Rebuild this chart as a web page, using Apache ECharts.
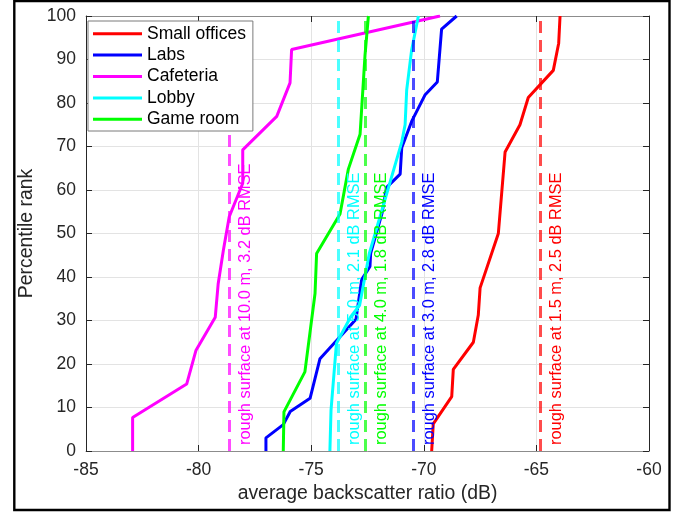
<!DOCTYPE html>
<html>
<head>
<meta charset="utf-8">
<script src="https://cdn.jsdelivr.net/npm/echarts@6/dist/echarts.min.js"></script>
<style>
html,body{margin:0;padding:0;background:#fff;}
#chart{width:689px;height:512px;}
</style>
</head>
<body>
<div id="chart"></div>
<script>
// ---- data ----
const seriesNames = ['Small offices', 'Labs', 'Cafeteria', 'Lobby', 'Game room'];
const seriesColors = ['#ff0000', '#0000ff', '#ff00ff', '#00ffff', '#00ff00'];
const dashColors = ['rgba(255,0,0,0.7)', 'rgba(0,0,255,0.7)', 'rgba(255,0,255,0.7)', 'rgba(0,255,255,0.7)', 'rgba(0,255,0,0.7)'];

const smallOfficesX = [-69.65, -69.58, -68.76, -68.69, -67.80, -67.58, -67.50, -66.69, -66.39, -65.73, -65.36, -64.25, -64.01, -63.95];
const smallOfficesP = [0, 6.25, 12.5, 18.75, 25, 31.25, 37.5, 50, 68.75, 75, 81.25, 87.5, 93.75, 100];

const labsX = [-77.01, -77.01, -76.24, -75.93, -75.05, -74.61, -73.01, -72.76, -72.39, -72.36, -71.86, -71.65, -71.05, -70.98, -70.54, -69.95, -69.40, -69.21, -68.54];
const labsP = [0, 3.03, 6.06, 9.09, 12.12, 21.21, 30.3, 39.39, 42.42, 45.45, 54.55, 60.61, 63.64, 69.7, 75.76, 81.82, 84.85, 96.97, 100];

const cafeteriaX = [-82.93, -82.93, -80.53, -80.12, -79.26, -79.13, -78.90, -78.64, -78.04, -78.04, -76.53, -75.94, -75.87, -69.28];
const cafeteriaP = [0, 7.69, 15.38, 23.08, 30.77, 38.46, 46.15, 53.85, 61.54, 69.23, 76.92, 84.62, 92.31, 100];

const lobbyX = [-74.17, -74.12, -73.88, -73.25, -72.85, -72.42, -70.98, -70.83, -70.76, -70.54, -70.24];
const lobbyP = [0, 9.4, 24.7, 30.8, 33.5, 45.4, 71, 75, 83, 92.2, 100];

const gameRoomX = [-76.24, -76.21, -75.28, -74.83, -74.76, -73.72, -73.35, -72.83, -72.61, -72.46];
const gameRoomP = [0, 9.0, 18.2, 36.2, 45.4, 54.5, 64.8, 72.8, 91, 100];

const roughX = [-64.84, -70.48, -78.65, -73.81, -72.61];
const roughLabels = [
  'rough surface at 1.5 m, 2.5 dB RMSE',
  'rough surface at 3.0 m, 2.8 dB RMSE',
  'rough surface at 10.0 m, 3.2 dB RMSE',
  'rough surface at 5.0 m, 2.1 dB RMSE',
  'rough surface at 4.0 m, 1.8 dB RMSE'
];

const xTicks = [-85, -80, -75, -70, -65, -60];
const yTicks = [0, 10, 20, 30, 40, 50, 60, 70, 80, 90, 100];

const xSets = [smallOfficesX, labsX, cafeteriaX, lobbyX, gameRoomX];
const pSets = [smallOfficesP, labsP, cafeteriaP, lobbyP, gameRoomP];

// ---- chart ----
const FONT = 'Liberation Sans, Arial, Helvetica, sans-serif';
const chart = echarts.init(document.getElementById('chart'), null, {renderer: 'canvas'});

const series = seriesNames.map((name, i) => ({
  name: name,
  type: 'line',
  data: xSets[i].map((x, k) => [x, pSets[i][k]]),
  showSymbol: false,
  symbol: 'none',
  lineStyle: {width: 3, color: seriesColors[i]},
  itemStyle: {color: seriesColors[i]},
  z: 3,
  animation: false,
  markLine: {
    silent: true,
    symbol: 'none',
    animation: false,
    lineStyle: {type: [12, 7], width: 3, color: dashColors[i]},
    label: {
      show: true,
      formatter: roughLabels[i],
      position: 'insideStartBottom',
      color: seriesColors[i],
      fontSize: 16.4,
      fontFamily: FONT,
      distance: [6, 8]
    },
    emphasis: {disabled: true},
    data: [{xAxis: roughX[i]}]
  }
}));

const axisCommonX = {
  type: 'value', min: xTicks[0], max: xTicks[xTicks.length - 1], interval: 5, gridIndex: 0
};
const axisCommonY = {
  type: 'value', min: yTicks[0], max: yTicks[yTicks.length - 1], interval: 10, gridIndex: 0
};

chart.setOption({
  animation: false,
  backgroundColor: '#ffffff',
  textStyle: {fontFamily: FONT},
  grid: {left: 86, right: 40, top: 16, bottom: 61, containLabel: false},
  legend: {
    orient: 'vertical',
    left: 88,
    top: 21,
    data: seriesNames,
    icon: 'rect',
    itemWidth: 49,
    itemHeight: 3,
    itemGap: 0,
    padding: [2, 7, 1, 5],
    backgroundColor: '#ffffff',
    borderColor: '#7a7a7a',
    borderWidth: 1,
    borderRadius: 0,
    z: 10,
    selectedMode: false,
    textStyle: {fontSize: 17.5, color: '#000', fontFamily: FONT, lineHeight: 21.4, padding: [0, 0, 0, 0]}
  },
  xAxis: [
    Object.assign({}, axisCommonX, {
      position: 'bottom',
      name: 'average backscatter ratio (dB)',
      nameLocation: 'middle',
      nameGap: 31,
      nameTextStyle: {fontSize: 19.4, color: '#262626', fontFamily: FONT},
      axisLine: {show: true, onZero: false, lineStyle: {color: '#8c8c8c', width: 1}},
      axisTick: {show: true, inside: true, length: 6, lineStyle: {color: '#262626'}},
      axisLabel: {show: true, fontSize: 17.5, color: '#262626', margin: 10, fontFamily: FONT},
      splitLine: {show: true, lineStyle: {color: '#e3e3e3', width: 1}}
    }),
    Object.assign({}, axisCommonX, {
      position: 'top',
      axisLine: {show: true, onZero: false, lineStyle: {color: '#8c8c8c', width: 1}},
      axisTick: {show: true, inside: true, length: 6, lineStyle: {color: '#262626'}},
      axisLabel: {show: false},
      splitLine: {show: false}
    })
  ],
  yAxis: [
    Object.assign({}, axisCommonY, {
      position: 'left',
      name: 'Percentile rank',
      nameLocation: 'middle',
      nameGap: 45,
      nameTextStyle: {fontSize: 19.4, color: '#262626', fontFamily: FONT},
      axisLine: {show: true, onZero: false, lineStyle: {color: '#262626', width: 1}},
      axisTick: {show: true, inside: true, length: 6, lineStyle: {color: '#262626'}},
      axisLabel: {show: true, fontSize: 17.5, color: '#262626', margin: 10, fontFamily: FONT},
      splitLine: {show: true, lineStyle: {color: '#e3e3e3', width: 1}}
    }),
    Object.assign({}, axisCommonY, {
      position: 'right',
      axisLine: {show: true, onZero: false, lineStyle: {color: '#262626', width: 1}},
      axisTick: {show: true, inside: true, length: 6, lineStyle: {color: '#262626'}},
      axisLabel: {show: false},
      splitLine: {show: false}
    })
  ],
  graphic: [{
    type: 'rect',
    silent: true,
    z: 100,
    shape: {x: 14.3, y: 1, width: 655.2, height: 509},
    style: {fill: 'none', stroke: '#000000', lineWidth: 2.4}
  }],
  series: series
});
</script>
</body>
</html>
